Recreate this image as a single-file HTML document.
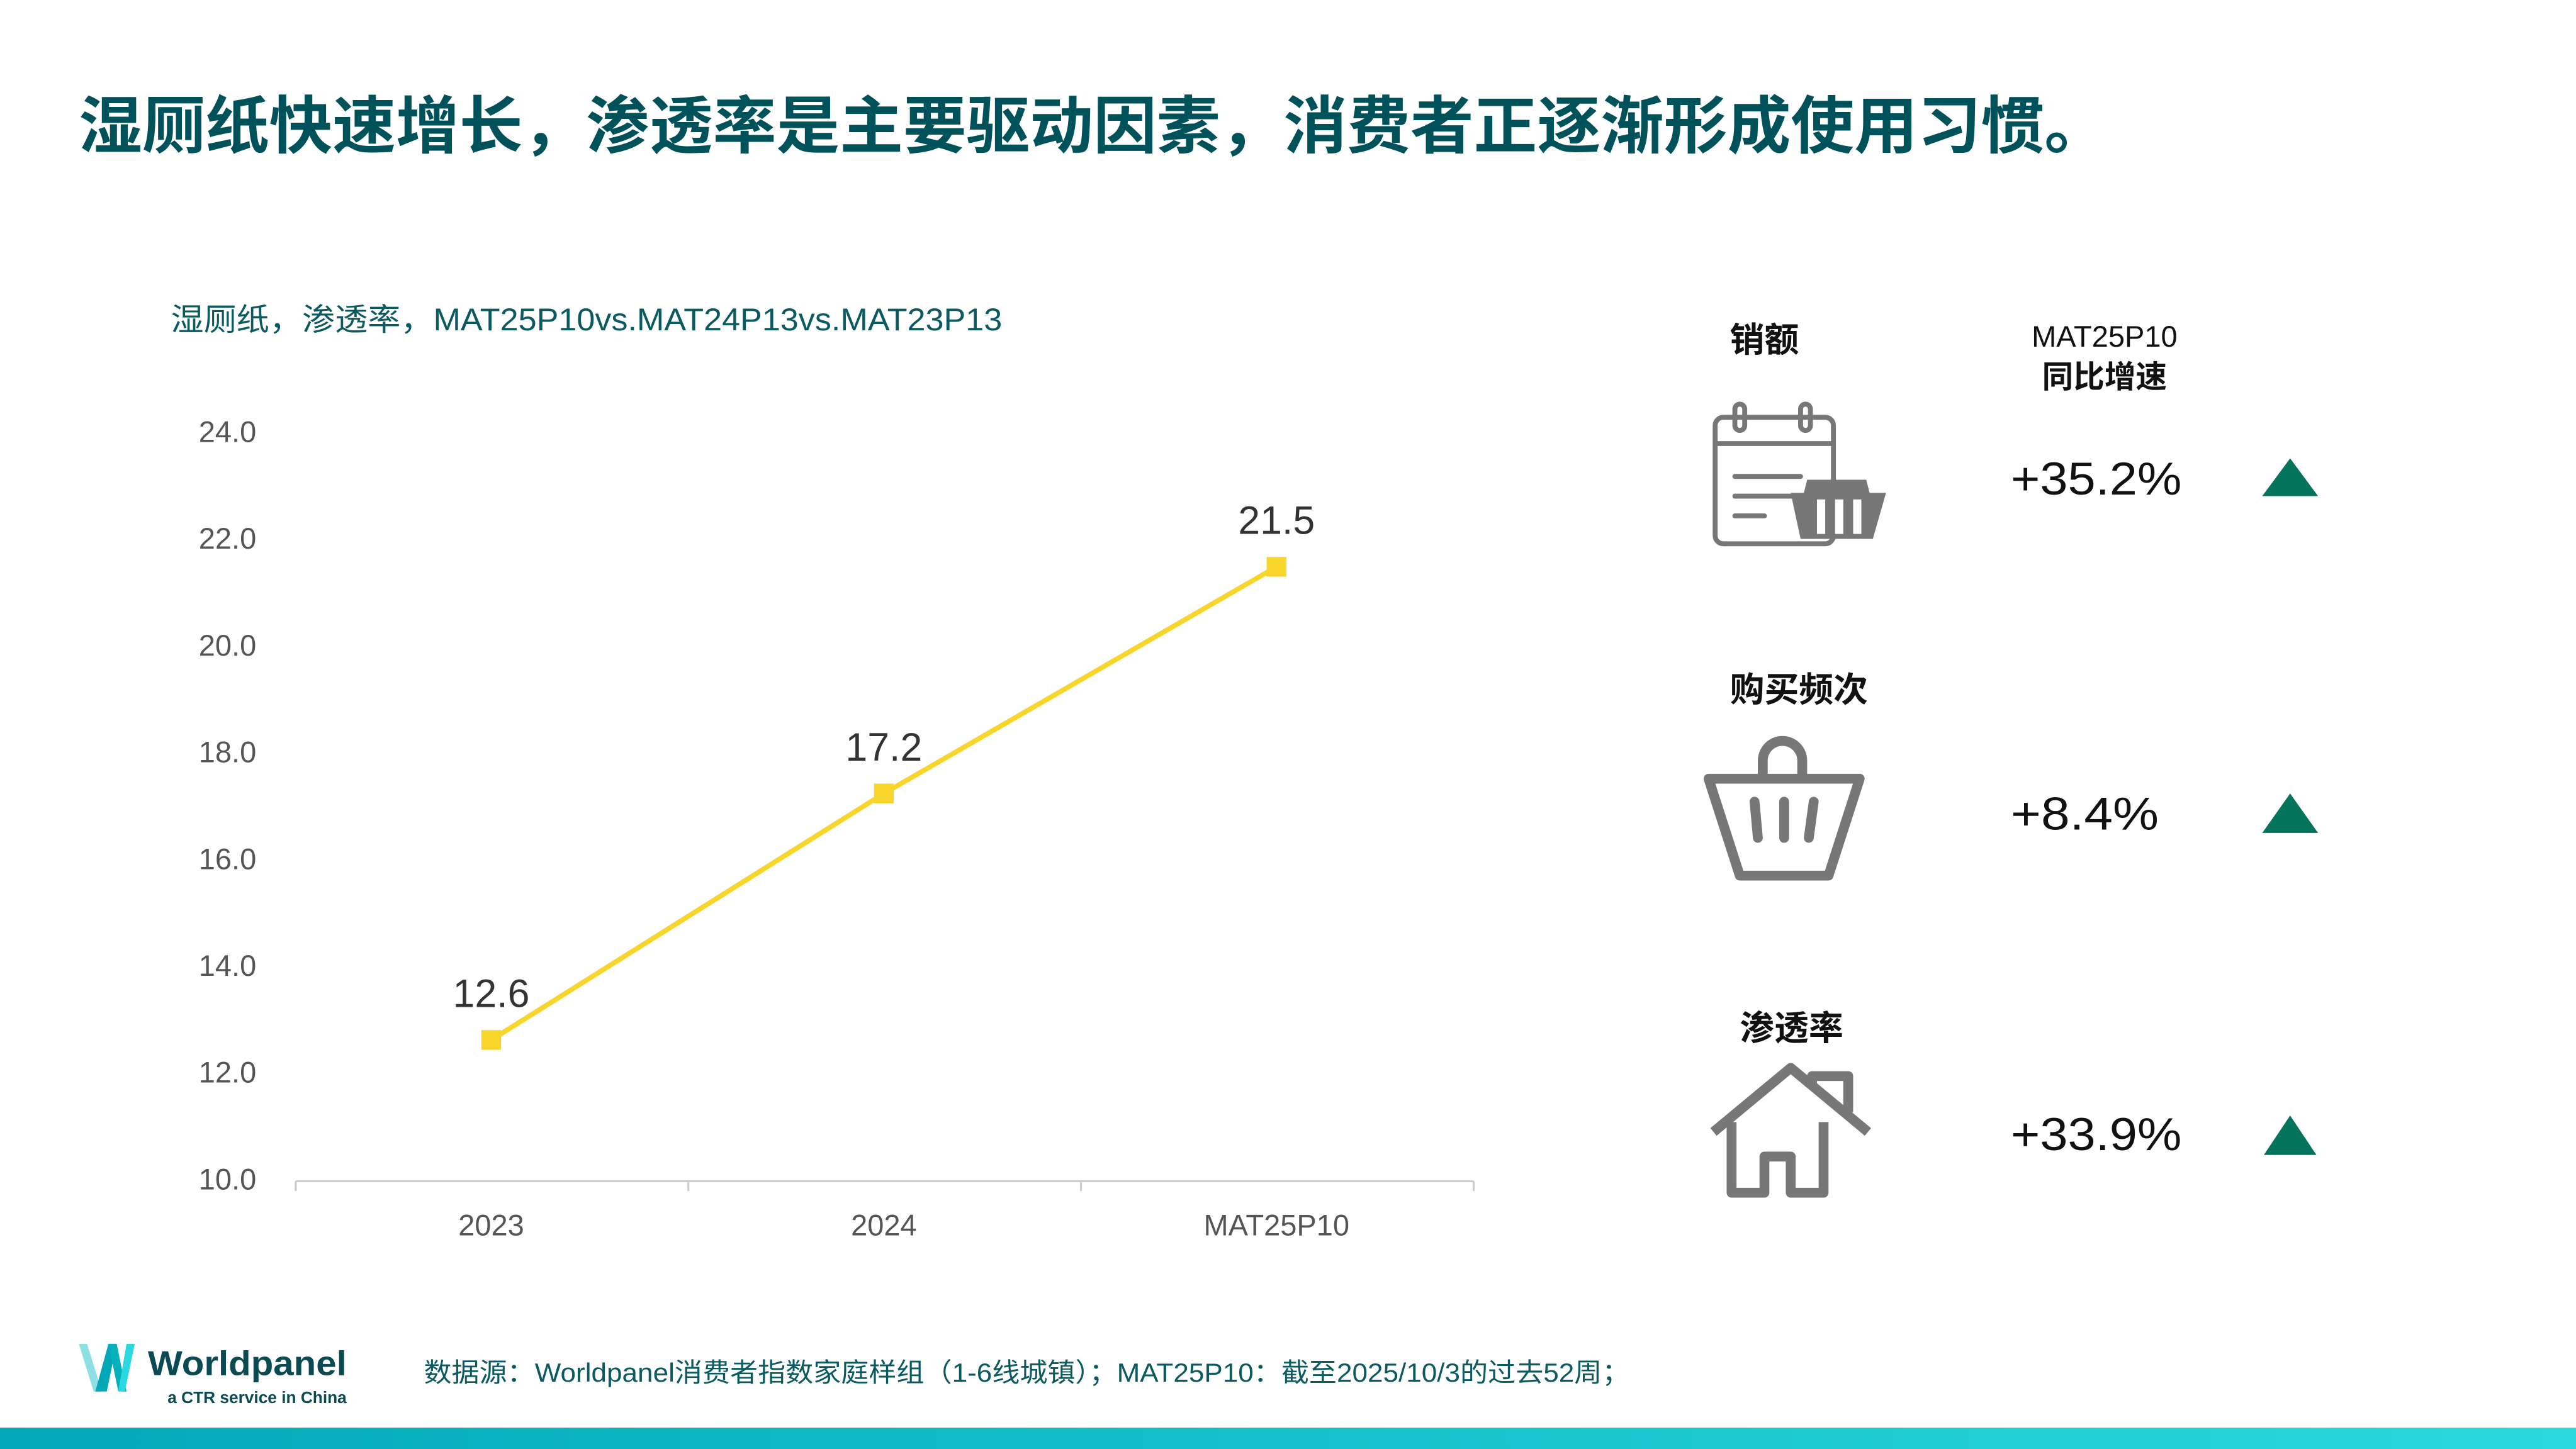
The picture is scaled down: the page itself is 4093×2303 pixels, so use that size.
<!DOCTYPE html>
<html><head><meta charset="utf-8"><style>
html,body{margin:0;padding:0;background:#fff;}
svg{display:block;}
text{font-family:"Liberation Sans","Noto Sans CJK SC",sans-serif;}
</style></head><body>
<svg width="4093" height="2303" viewBox="0 0 1568 882" preserveAspectRatio="none" xmlns="http://www.w3.org/2000/svg">
<defs>
<linearGradient id="bar" x1="0" x2="1" y1="0" y2="0"><stop offset="0" stop-color="#03a8b8"/><stop offset="1" stop-color="#2ad8e0"/></linearGradient>
</defs>
<text x="48" y="90" font-size="38" font-weight="bold" fill="#00525a" textLength="1235" lengthAdjust="spacingAndGlyphs">湿厕纸快速增长，渗透率是主要驱动因素，消费者正逐渐形成使用习惯。</text>
<text x="104" y="201" font-size="19" fill="#0b5a60" textLength="506" lengthAdjust="spacingAndGlyphs">湿厕纸，渗透率，MAT25P10vs.MAT24P13vs.MAT23P13</text>
<g font-size="18" fill="#555" text-anchor="end">
<text x="156" y="269">24.0</text><text x="156" y="334">22.0</text><text x="156" y="399">20.0</text><text x="156" y="464">18.0</text><text x="156" y="529">16.0</text><text x="156" y="594">14.0</text><text x="156" y="659">12.0</text><text x="156" y="724">10.0</text>
</g>
<g stroke="#ccc" stroke-width="1.2"><line x1="180" y1="719" x2="897" y2="719"/><line x1="180" y1="719" x2="180" y2="725"/><line x1="419" y1="719" x2="419" y2="725"/><line x1="658" y1="719" x2="658" y2="725"/><line x1="897" y1="719" x2="897" y2="725"/></g>
<g font-size="18" fill="#555" text-anchor="middle"><text x="299" y="752">2023</text><text x="538" y="752">2024</text><text x="777" y="752">MAT25P10</text></g>
<polyline points="299,633 538,483 777,345" fill="none" stroke="#f7d52a" stroke-width="3"/>
<g fill="#f7d52a"><rect x="293" y="627" width="12" height="12"/><rect x="532" y="477" width="12" height="12"/><rect x="771" y="339" width="12" height="12"/></g>
<g font-size="24" fill="#333" text-anchor="middle"><text x="299" y="613">12.6</text><text x="538" y="463">17.2</text><text x="777" y="325">21.5</text></g>

<g font-size="21" font-weight="bold" fill="#111"><text x="1053" y="214">销额</text><text x="1053" y="427">购买频次</text><text x="1059" y="633">渗透率</text></g>
<text x="1281" y="211" font-size="18" fill="#111" text-anchor="middle">MAT25P10</text>
<text x="1281" y="236" font-size="19" font-weight="bold" fill="#111" text-anchor="middle">同比增速</text>
<g font-size="28" fill="#111"><text x="1224" y="301" textLength="104" lengthAdjust="spacingAndGlyphs">+35.2%</text><text x="1224" y="505" textLength="90" lengthAdjust="spacingAndGlyphs">+8.4%</text><text x="1224" y="700" textLength="104" lengthAdjust="spacingAndGlyphs">+33.9%</text></g>
<g fill="#04755c"><polygon points="1377,302 1394,279 1411,302"/><polygon points="1377,507 1394,483 1411,507"/><polygon points="1378,703 1394,679 1410,703"/></g>

<g fill="none" stroke="#777" stroke-width="3" stroke-linecap="round" stroke-linejoin="round">
<rect x="1044" y="254" width="72" height="77" rx="5"/><line x1="1044" y1="270" x2="1116" y2="270"/>
<rect x="1056" y="246" width="6" height="16" rx="3"/><rect x="1096" y="246" width="6" height="16" rx="3"/>
<line x1="1056" y1="290" x2="1096" y2="290"/><line x1="1056" y1="302" x2="1094" y2="302"/><line x1="1056" y1="314" x2="1074" y2="314"/>
</g>
<g fill="#777"><path d="M1098,300 l2,-8 h36 l2,8 h10 l-8,28 h-44 l-6,-28z"/></g>
<g fill="#fff"><rect x="1106" y="304" width="5" height="21"/><rect x="1117" y="304" width="5" height="21"/><rect x="1128" y="304" width="5" height="21"/></g>
<g fill="none" stroke="#777" stroke-width="6" stroke-linejoin="round" stroke-linecap="round">
<path d="M1040,474 h92 l-19,59 h-54 z"/><path d="M1073,472 v-9 a12,12 0 0 1 24,0 v9"/>
<line x1="1068" y1="488" x2="1070" y2="510"/><line x1="1086" y1="488" x2="1086" y2="510"/><line x1="1104" y1="488" x2="1101" y2="510"/>
</g>
<g fill="none" stroke="#777" stroke-width="6" stroke-linejoin="round">
<path d="M1043,689 L1090,650 L1137,689"/><path d="M1103,660 v-5 h22 v22"/>
<path d="M1054,683 v43 h20 v-22 h16 v22 h20 v-43"/>
</g>

<path d="M48,818 l5,0 l9,29 l-5,0z" fill="#8edfe4"/>
<path d="M58,847 l8,-29 l5,0 l-6,29z" fill="#03a8b8"/>
<path d="M66,818 l5,0 l6,29 l-5,0z" fill="#05b0bd"/>
<path d="M72,847 l5,-29 l5,0 l-6,29z" fill="#2ad8e0"/>
<text x="90" y="837" font-size="21" font-weight="bold" fill="#0a4a52" textLength="121" lengthAdjust="spacingAndGlyphs">Worldpanel</text>
<text x="102" y="854" font-size="10" font-weight="bold" fill="#0a4a52" textLength="109" lengthAdjust="spacingAndGlyphs">a CTR service in China</text>
<text x="258" y="841" font-size="16" fill="#0b5a60" textLength="734" lengthAdjust="spacingAndGlyphs">数据源：Worldpanel消费者指数家庭样组（1-6线城镇）；MAT25P10：截至2025/10/3的过去52周；</text>
<rect x="0" y="869" width="1568" height="13" fill="url(#bar)"/>
</svg>
</body></html>
